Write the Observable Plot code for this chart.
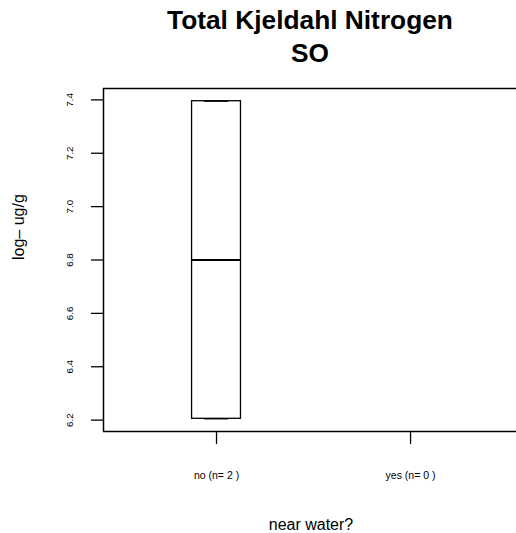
<!DOCTYPE html>
<html><head><meta charset="utf-8">
<script src="https://cdn.jsdelivr.net/npm/d3@7"></script>
<script src="https://cdn.jsdelivr.net/npm/@observablehq/plot@0.6"></script>
<style>
body{margin:0;background:#fff;font-family:"Liberation Sans",Arial,Helvetica,sans-serif;}
#title{height:80px;width:414px;margin-left:103px;box-sizing:border-box;padding-top:4.4px;text-align:center;font-weight:bold;font-size:26.3px;line-height:33px;color:#000;white-space:nowrap;}
#chart svg{display:block;}
</style></head>
<body>
<div id="title"></div>
<div id="chart"></div>
<script>
const titleLines = ["Total Kjeldahl Nitrogen", "SO"];
const categories = ["no", "yes"];
const counts = [2, 0];
const noValues = [6.205, 7.395];
const yesValues = [];
const yTicks = [6.2, 6.4, 6.6, 6.8, 7.0, 7.2, 7.4];
const yLabel = "log\u2013 ug/g";
const xLabel = "near water?";

document.getElementById("title").innerHTML = titleLines.map(t => `<div>${t}</div>`).join("");

function fivenum(v) {
  const s = v.slice().sort((a, b) => a - b), n = s.length;
  const n4 = Math.floor((n + 3) / 2) / 2;
  const d = [1, n4, (n + 1) / 2, n + 1 - n4, n];
  return d.map(i => 0.5 * (s[Math.floor(i) - 1] + s[Math.ceil(i) - 1]));
}
const groups = [noValues, yesValues];
const stats = groups.map((v, i) => v.length ? {x: i + 1, f: fivenum(v)} : null).filter(d => d);
const all = groups.flat();
const lo = d3.min(all), hi = d3.max(all), pad = (hi - lo) * 0.04;
const labels = categories.map((c, i) => `${c} (n= ${counts[i]} )`);
const bw = 0.126;
const xDom = [0.4175, 2.546];

const chart = Plot.plot({
  width: 516, height: 453,
  marginLeft: 103, marginRight: 0, marginTop: 8, marginBottom: 102,
  style: {fontFamily: "'Liberation Sans', Arial, Helvetica, sans-serif", background: "white", color: "black", overflow: "visible"},
  x: {type: "linear", domain: xDom},
  y: {domain: [lo - pad, hi + pad]},
  marks: [
    Plot.ruleY([hi + pad], {stroke: "black", strokeWidth: 1.5}),
    Plot.ruleY([lo - pad], {stroke: "black", strokeWidth: 1.5}),
    Plot.ruleX([xDom[0]], {stroke: "black", strokeWidth: 1.5}),
    Plot.axisY({ticks: yTicks, tickSize: 12, tickFormat: () => "", label: null, strokeWidth: 1.3}),
    Plot.text(yTicks, {y: d => d, text: d => d.toFixed(1), frameAnchor: "left", rotate: -90, dx: -34, fontSize: 9.8, textAnchor: "middle", lineAnchor: "middle", fill: "#000"}),
    Plot.axisX({ticks: [1, 2], tickSize: 13, tickFormat: () => "", label: null, strokeWidth: 1.3}),
    Plot.text(labels, {x: (d, i) => i + 1, text: d => d, frameAnchor: "bottom", dy: 44, fontSize: 10.5, lineAnchor: "middle", fill: "#000"}),
    Plot.text([xLabel], {frameAnchor: "bottom", dx: 1, dy: 93, fontSize: 16, lineAnchor: "middle", fill: "#000"}),
    Plot.text([yLabel], {frameAnchor: "left", rotate: -90, dx: -85, fontSize: 16, lineAnchor: "middle", fill: "#000"}),
    Plot.ruleX(stats, {x: "x", y1: d => d.f[3], y2: d => d.f[4], stroke: "black", strokeWidth: 1.3}),
    Plot.ruleX(stats, {x: "x", y1: d => d.f[0], y2: d => d.f[1], stroke: "black", strokeWidth: 1.3}),
    Plot.ruleY(stats, {y: d => d.f[4], x1: d => d.x - bw / 2, x2: d => d.x + bw / 2, stroke: "black", strokeWidth: 1.3}),
    Plot.ruleY(stats, {y: d => d.f[0], x1: d => d.x - bw / 2, x2: d => d.x + bw / 2, stroke: "black", strokeWidth: 1.3}),
    Plot.rect(stats, {x1: d => d.x - bw, x2: d => d.x + bw, y1: d => d.f[1], y2: d => d.f[3], fill: "none", stroke: "black", strokeWidth: 1.3}),
    Plot.ruleY(stats, {y: d => d.f[2], x1: d => d.x - bw, x2: d => d.x + bw, stroke: "black", strokeWidth: 2.2})
  ]
});
document.getElementById("chart").appendChild(chart);
</script>
</body></html>
